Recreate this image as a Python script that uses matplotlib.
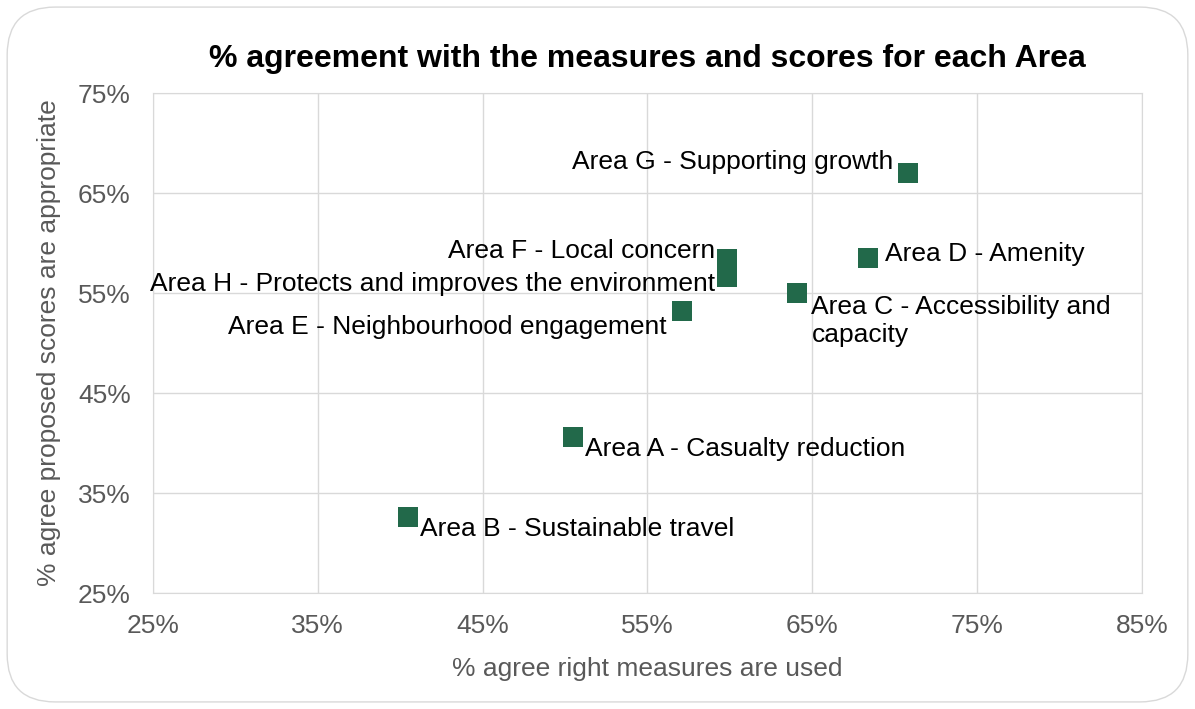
import numpy as np
import matplotlib.pyplot as plt
from matplotlib.patches import FancyBboxPatch
from matplotlib.ticker import PercentFormatter

plt.rcParams['font.family'] = ['Liberation Sans', 'DejaVu Sans']

areas = ["Area G - Supporting growth",
         "Area F - Local concern",
         "Area H - Protects and improves the environment",
         "Area D - Amenity",
         "Area C - Accessibility and\ncapacity",
         "Area E - Neighbourhood engagement",
         "Area A - Casualty reduction",
         "Area B - Sustainable travel"]
right_measures = [70.8, 59.8, 59.8, 68.4, 64.1, 57.1, 50.5, 40.45]
scores_ok = [67.0, 58.45, 56.65, 58.5, 55.0, 53.2, 40.6, 32.6]

# label offsets in pixels (dx, dy, ha, va)
offsets = [(-15, 11, 'right', 'center'),
           (-11, 8, 'right', 'center'),
           (-11, -7, 'right', 'center'),
           (17, 4, 'left', 'center'),
           (14, -2, 'left', 'top'),
           (-15, -16, 'right', 'center'),
           (12, -12, 'left', 'center'),
           (12, -12, 'left', 'center')]

fig = plt.figure(figsize=(11.95, 7.09), dpi=100)
fig.patches.append(FancyBboxPatch((0.006, 0.01), 0.988, 0.98,
                                  boxstyle="round,pad=0,rounding_size=0.04",
                                  transform=fig.transFigure, fc='none',
                                  ec='#d9d9d9', lw=1, mutation_aspect=1195/709,
                                  zorder=10))
ax = fig.add_axes([0.128, 0.1636, 0.8276, 0.7052])

ax.scatter(right_measures, scores_ok, marker='s', s=190, color='#22694a', zorder=3, linewidths=0)

for name, x, y, (dx, dy, ha, va) in zip(areas, right_measures, scores_ok, offsets):
    ax.annotate(name, (x, y), xytext=(dx, dy), textcoords='offset pixels',
                ha=ha, va=va, fontsize=19, color='black', linespacing=1.22)

ax.set_xlim(25, 85)
ax.set_ylim(25, 75)
ax.set_xticks(np.arange(25, 86, 10))
ax.set_yticks(np.arange(25, 76, 10))
ax.xaxis.set_major_formatter(PercentFormatter(decimals=0))
ax.yaxis.set_major_formatter(PercentFormatter(decimals=0))
ax.grid(True, color='#d9d9d9', lw=1)
ax.set_axisbelow(True)
for s in ax.spines.values():
    s.set_color('#d9d9d9')
ax.tick_params(length=0, labelsize=19, labelcolor='#595959')
ax.tick_params(axis='x', pad=15)
ax.tick_params(axis='y', pad=16)

ax.set_xlabel("% agree right measures are used", fontsize=19, color='#595959', labelpad=14)
ax.set_ylabel("% agree proposed scores are appropriate", fontsize=19, color='#595959', labelpad=12)
ax.set_title("% agreement with the measures and scores for each Area",
             fontsize=23, fontweight='bold', pad=19)

fig.savefig("out.png", dpi=100)
